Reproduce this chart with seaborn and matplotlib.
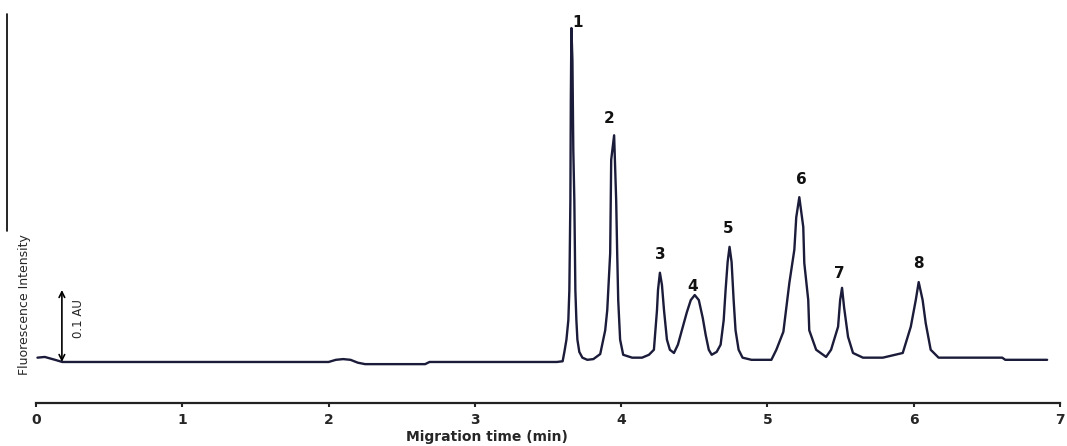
import matplotlib
matplotlib.use("Agg")
import matplotlib.pyplot as plt
import seaborn as sns
from matplotlib.lines import Line2D

# electropherogram trace (time in min, intensity in AU)
time_min = [0.01, 0.06, 0.13, 0.18, 0.44, 1.12, 1.80, 2.00, 2.05, 2.10, 2.15, 2.20, 2.25, 2.66, 2.69,
            3.16, 3.56, 3.60,
            3.612, 3.626, 3.639, 3.646, 3.653, 3.656, 3.660, 3.667, 3.673, 3.680, 3.687, 3.694, 3.701,
            3.714, 3.735, 3.769, 3.810, 3.857,
            3.891, 3.905, 3.925, 3.932, 3.952, 3.966, 3.973, 3.980, 3.993, 4.014, 4.075, 4.143, 4.190,
            4.224, 4.245, 4.252, 4.265, 4.279, 4.293, 4.313, 4.333, 4.361,
            4.388, 4.415, 4.449, 4.476, 4.503, 4.531, 4.558, 4.578, 4.599, 4.619,
            4.653, 4.680, 4.701, 4.714, 4.728, 4.741, 4.755, 4.769, 4.782, 4.803, 4.830, 4.891, 5.027,
            5.061, 5.109, 5.150, 5.184, 5.197, 5.218, 5.245, 5.252, 5.279, 5.286, 5.333, 5.401, 5.435,
            5.483, 5.497, 5.510, 5.524, 5.551, 5.585, 5.653, 5.789, 5.925,
            5.980, 6.014, 6.034, 6.061, 6.082, 6.116, 6.170, 6.605, 6.626, 6.912]
intensity = [0.006, 0.007, 0.003, 0.0, 0.0, 0.0, 0.0, 0.0, 0.003, 0.004, 0.003, -0.001, -0.003, -0.003, 0.0,
             0.0, 0.0, 0.001,
             0.014, 0.031, 0.058, 0.100, 0.225, 0.364, 0.464, 0.419, 0.294, 0.225, 0.100, 0.058, 0.031,
             0.014, 0.006, 0.003, 0.004, 0.011,
             0.044, 0.072, 0.151, 0.281, 0.315, 0.225, 0.151, 0.086, 0.031, 0.010, 0.006, 0.006, 0.010,
             0.017, 0.072, 0.100, 0.124, 0.107, 0.072, 0.031, 0.017, 0.0125,
             0.024, 0.044, 0.069, 0.086, 0.093, 0.086, 0.061, 0.0375, 0.017, 0.010,
             0.014, 0.024, 0.058, 0.100, 0.139, 0.160, 0.139, 0.086, 0.044, 0.017, 0.006, 0.003, 0.003,
             0.017, 0.042, 0.110, 0.156, 0.201, 0.229, 0.1875, 0.1375, 0.086, 0.044, 0.017, 0.007, 0.017,
             0.049, 0.086, 0.103, 0.076, 0.035, 0.0125, 0.006, 0.006, 0.0125,
             0.049, 0.086, 0.111, 0.086, 0.054, 0.017, 0.006, 0.006, 0.003, 0.003]

# peak numbers and where their labels sit
peak_labels = ["1", "2", "3", "4", "5", "6", "7", "8"]
label_t = [3.70, 3.92, 4.27, 4.49, 4.73, 5.23, 5.49, 6.03]
label_i = [0.472, 0.339, 0.149, 0.105, 0.186, 0.253, 0.123, 0.137]

x_ticks = [0, 1, 2, 3, 4, 5, 6, 7]

narrow = ["Liberation Sans Narrow", "DejaVu Sans Condensed", "DejaVu Sans"]

sns.set_style("white")
fig = plt.figure(figsize=(10.67, 4.46), dpi=100)
ax = fig.add_axes([36 / 1067, 43 / 446, 1024 / 1067, 403 / 446])

sns.lineplot(x=time_min, y=intensity, sort=False, estimator=None,
             color="#1b1b3a", linewidth=1.7, ax=ax)

for lab, t, i in zip(peak_labels, label_t, label_i):
    ax.text(t, i, lab, ha="center", va="center", fontsize=11, fontweight="bold", color="#111111")

# scale bar 0.1 AU
ax.annotate("", xy=(0.177, 0.0), xytext=(0.177, 0.1),
            arrowprops=dict(arrowstyle="<->", color="black", lw=1.2, shrinkA=0, shrinkB=0))
ax.text(0.29, 0.061, "0.1 AU", rotation=90, ha="center", va="center", fontsize=8.5, family=narrow)

ax.set_xlim(0, 7)
ax.set_ylim(-0.057, 0.503)
ax.set_xticks(x_ticks)
ax.set_xticklabels([str(v) for v in x_ticks], fontweight="bold", fontsize=10)
ax.set_yticks([])
ax.tick_params(axis="x", direction="out", length=3, width=1.5, pad=4, bottom=True)
sns.despine(ax=ax, left=True, top=True, right=True)
ax.spines["bottom"].set_linewidth(1.6)
ax.spines["bottom"].set_color("#222222")

ax.set_xlabel("Migration time (min)", fontweight="bold", fontsize=10)
ax.xaxis.set_label_coords((487 - 36) / 1024, -0.068)

fig.text(25 / 1067, 1 - 305 / 446, "Fluorescence Intensity", rotation=90, ha="center", va="center",
         fontsize=9, family=narrow)

# stray rule at the left edge of the original figure
fig.add_artist(Line2D([7 / 1067, 7 / 1067], [1 - 14 / 446, 1 - 231 / 446], color="black", lw=1.2))

fig.savefig("out.png", dpi=100)
